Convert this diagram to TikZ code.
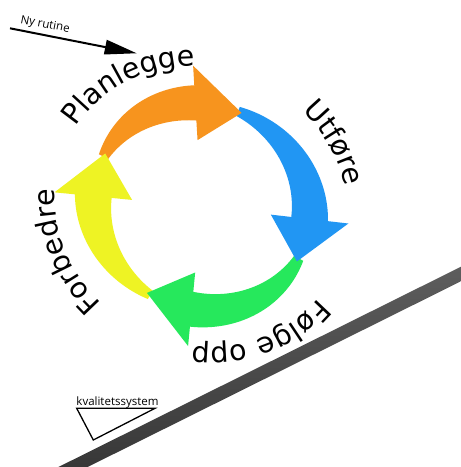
\documentclass[tikz,border=0pt]{standalone}
\usepackage{fontspec}
\newfontfamily\cyclefont{DejaVu Sans}
\newfontfamily\smallfont{Open Sans}
\usetikzlibrary{decorations.text,arrows.meta}
\definecolor{cOrange}{RGB}{247,148,30}
\definecolor{cBlue}{RGB}{33,150,243}
\definecolor{cGreen}{RGB}{38,232,92}
\definecolor{cYellow}{RGB}{238,243,36}
\newcommand{\lblfont}{\cyclefont\fontsize{28.5}{34}\selectfont}
\newcommand{\cycbody}[3]{%
 \pgfmathsetmacro{\cycHead}{(#3)+25}%
 \pgfmathsetmacro{\cycEnd}{(#3)+23}%
 \pgfmathsetmacro{\cycSpan}{(#2)-(\cycHead)}%
 \fill[#1] plot[domain=#2:\cycEnd, samples=40] (\x:{106+5+13*(0.5*((#2)-(\x))/\cycSpan+0.5*sin(90*((#2)-(\x))/\cycSpan))})
   -- plot[domain=\cycEnd:#2, samples=40] (\x:{106-5-13*(0.5*((#2)-(\x))/\cycSpan+0.5*sin(90*((#2)-(\x))/\cycSpan))}) -- cycle;}
\newcommand{\cychead}[2]{%
 \pgfmathsetmacro{\cycHead}{(#2)+25}%
 \fill[#1] (\cycHead:144) -- (#2:106) -- (\cycHead:68) -- cycle;}
\tikzset{
  cyclelabel/.style={decorate, decoration={text along path, text align=center, text={|\lblfont|#1}}},
  smalltext/.style={font=\smallfont\fontsize{11.5}{13}\selectfont, inner sep=0pt},
  ramp/.style={line width=1.3pt, line join=miter}
}
\begin{document}
\begin{tikzpicture}[x=1pt,y=1pt]
\useasboundingbox (0,0) rectangle (461,467);
\clip (0,0) rectangle (461,467);
\fill[white] (0,0) rectangle (461,467);

% inclined plane bar
\begin{scope}[shift={(267.5,96.75)}, rotate=26.45]
  \shade[top color=black!62, middle color=black!38, bottom color=black!80] (-260,-6.5) rectangle (260,6.5);
\end{scope}

% cycle arrows
\begin{scope}[shift={(201.5,260.3)}, rotate=-28, xscale=1.038, yscale=0.962]
  \cycbody{cOrange}{181}{94.5}
  \cycbody{cBlue}{96.5}{-2}
  \cycbody{cGreen}{0}{-94}
  \cycbody{cYellow}{-92}{-181}
  \cychead{cOrange}{94.5}
  \cychead{cBlue}{-2}
  \cychead{cGreen}{-94}
  \cychead{cYellow}{-181}
\end{scope}

% labels along the cycle
\begin{scope}[shift={(201.5,260.3)}, rotate=-28]
  \path[cyclelabel=Planlegge] (182.2:149 and 138) arc[start angle=182.2, end angle=112.2, x radius=149, y radius=138];
  \path[cyclelabel=Utføre] (90:149 and 138) arc[start angle=90, end angle=20, x radius=149, y radius=138];
  \path[cyclelabel=Følge opp] (-3.9:149 and 138) arc[start angle=-3.9, end angle=-73.9, x radius=149, y radius=138];
  \path[cyclelabel=Forbedre] (-97.3:149 and 138) arc[start angle=-97.3, end angle=-167.3, x radius=149, y radius=138];
\end{scope}

% new routine arrow
\coordinate (nyStart) at (10,438.7);
\coordinate (nyEnd) at (136.7,413.7);
\draw[line width=2pt, -{Triangle[length=32pt,width=14.5pt]}] (nyStart) -- (nyEnd);
\node[smalltext, rotate=-11] (nylabel) at (45,442) {Ny rutine};

% quality system wedge
\coordinate (wA) at (76.7,58.7);
\coordinate (wB) at (155,58.7);
\coordinate (wC) at (93.3,27);
\draw[ramp] (wA) -- (wB) -- (wC) -- cycle;
\node[smalltext, anchor=base] (kslabel) at (117.5,61) {kvalitetssystem};
\end{tikzpicture}
\end{document}
